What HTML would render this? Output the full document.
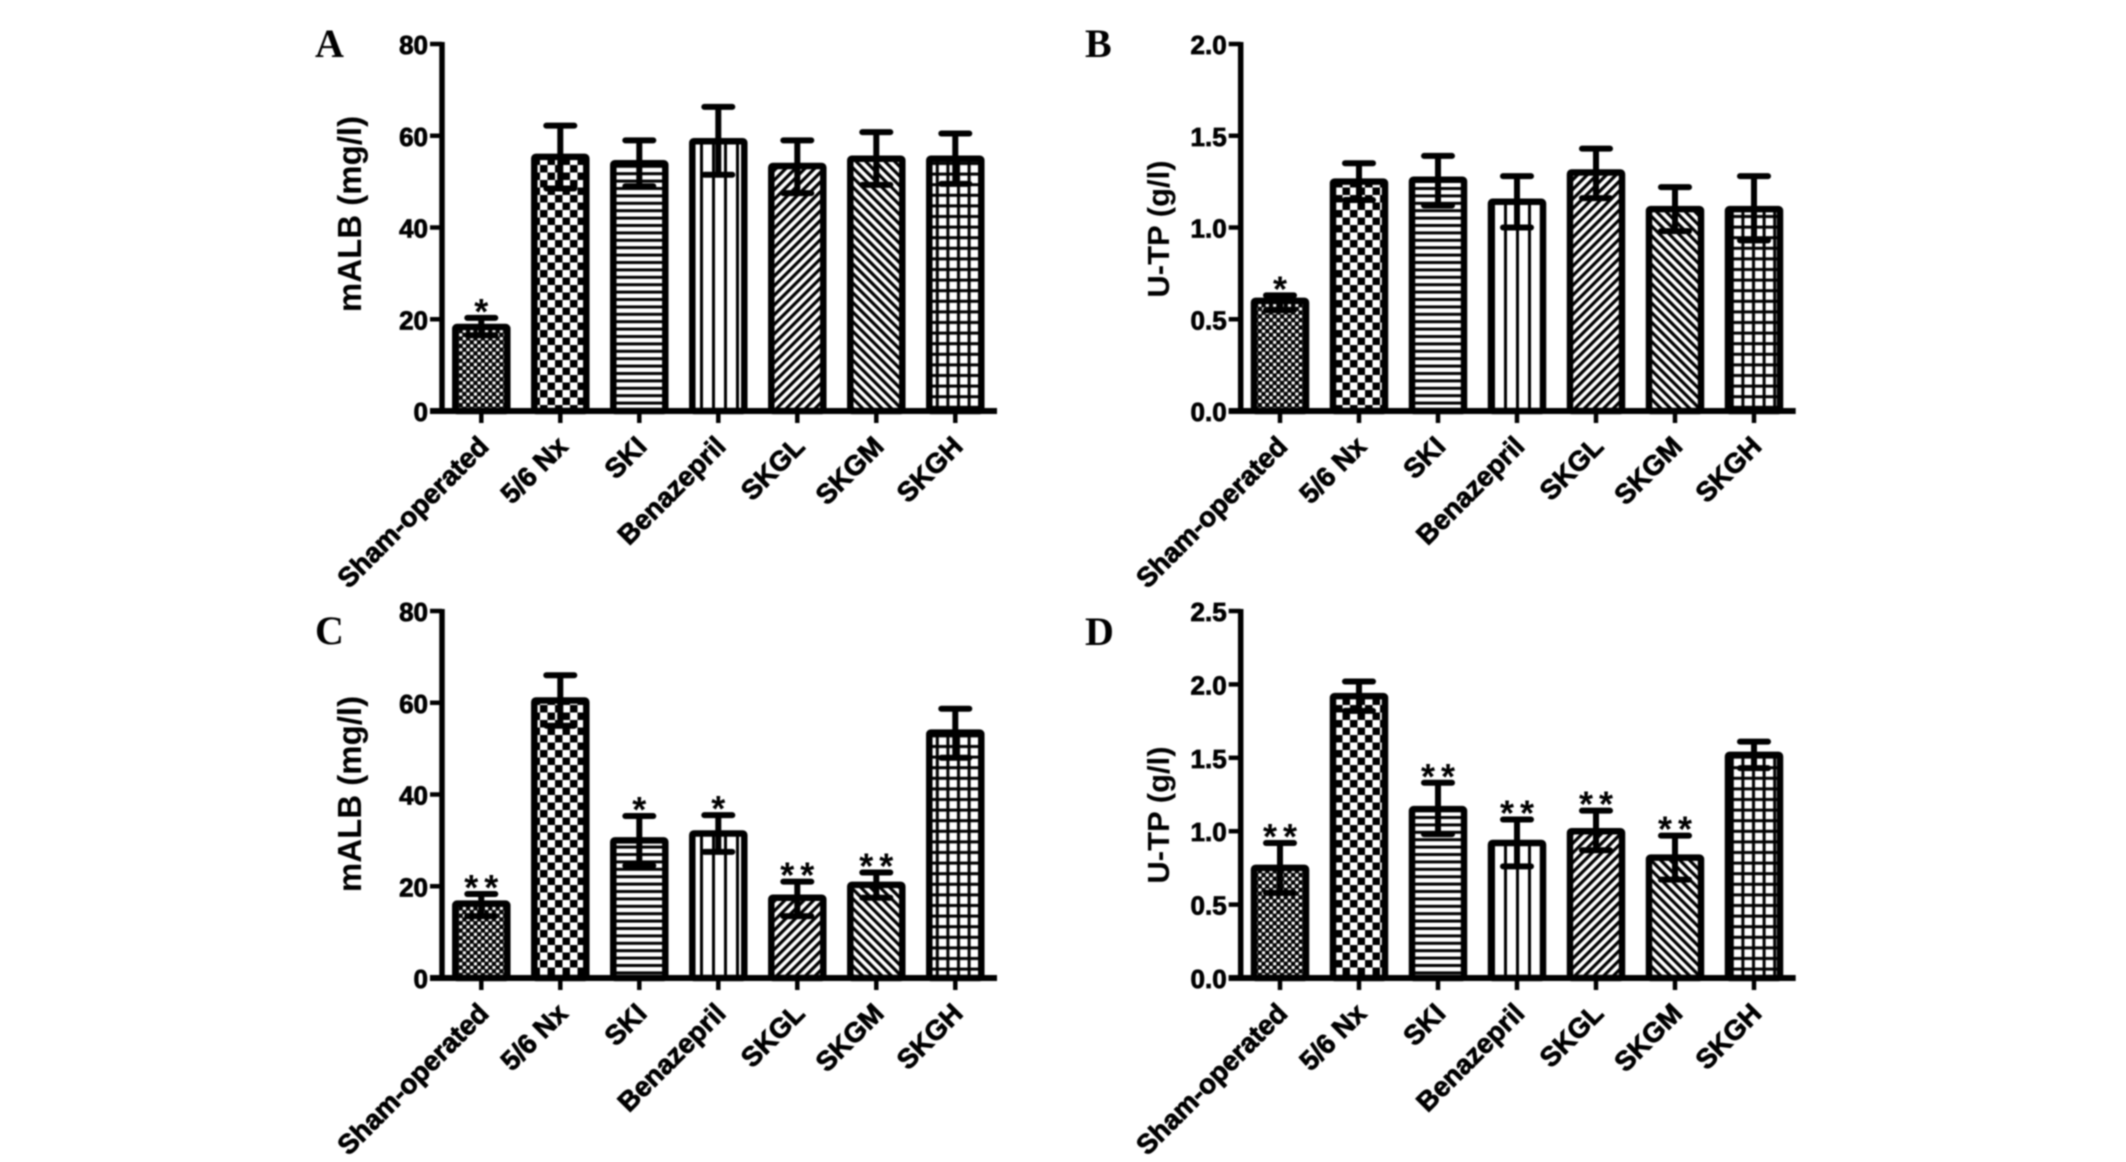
<!DOCTYPE html>
<html lang="en">
<head>
<meta charset="utf-8">
<title>mALB and U-TP bar charts</title>
<style>
html,body{margin:0;padding:0;background:#fff;}
body{width:2126px;height:1162px;overflow:hidden;}
svg{display:block;filter:blur(0.7px);}
text{font-family:"Liberation Sans",sans-serif;font-weight:bold;fill:#000;}
.tick{stroke:#000;stroke-width:.8px;}
.letter{font-family:"Liberation Serif",serif;font-size:40px;}
</style>
</head>
<body>
<svg id="figure" xmlns="http://www.w3.org/2000/svg" width="2126" height="1162" viewBox="0 0 2126 1162">
<rect width="2126" height="1162" fill="#fff"/>
<defs>
<pattern id="p0" patternUnits="userSpaceOnUse" width="7.4" height="7.4"><rect width="7.4" height="7.4" fill="#000"/><rect x="0.3" y="0.3" width="3.1" height="3.1" fill="#fff"/><rect x="4" y="4" width="3.1" height="3.1" fill="#fff"/></pattern>
<pattern id="p1" patternUnits="userSpaceOnUse" width="15" height="15"><rect width="15" height="15" fill="#fff"/><rect width="7.5" height="7.5" fill="#000"/><rect x="7.5" y="7.5" width="7.5" height="7.5" fill="#000"/></pattern>
<pattern id="p2" patternUnits="userSpaceOnUse" width="7.4" height="7.4"><rect width="7.4" height="7.4" fill="#fff"/><rect y="2" width="7.4" height="3" fill="#000"/></pattern>
<pattern id="p3" patternUnits="userSpaceOnUse" width="12" height="12"><rect width="12" height="12" fill="#fff"/><rect x="4" width="3" height="12" fill="#000"/></pattern>
<pattern id="p4" patternUnits="userSpaceOnUse" width="6.8" height="6.8" patternTransform="rotate(45)"><rect width="6.8" height="6.8" fill="#fff"/><rect width="3.2" height="6.8" fill="#000"/></pattern>
<pattern id="p5" patternUnits="userSpaceOnUse" width="6.8" height="6.8" patternTransform="rotate(-45)"><rect width="6.8" height="6.8" fill="#fff"/><rect width="3.2" height="6.8" fill="#000"/></pattern>
<pattern id="p6" patternUnits="userSpaceOnUse" width="10.6" height="10.6"><rect width="10.6" height="10.6" fill="#fff"/><rect x="3" width="3" height="10.6" fill="#000"/><rect y="3" width="10.6" height="3" fill="#000"/></pattern>
</defs>
</svg>
<script>
const categories = ['Sham-operated', '5/6 Nx', 'SKI', 'Benazepril', 'SKGL', 'SKGM', 'SKGH'];

const ticksAlb = [0, 20, 40, 60, 80];
const tickLabelsAlb = ['0', '20', '40', '60', '80'];
const ticksTpB = [0, 0.5, 1, 1.5, 2];
const tickLabelsTpB = ['0.0', '0.5', '1.0', '1.5', '2.0'];
const ticksTpD = [0, 0.5, 1, 1.5, 2, 2.5];
const tickLabelsTpD = ['0.0', '0.5', '1.0', '1.5', '2.0', '2.5'];

const valuesA = [18.3, 55.4, 54, 58.8, 53.4, 55, 55];
const errHighA = [20.3, 62.2, 59, 66.3, 59, 60.8, 60.5];
const errLowA = [16.5, 48.5, 49, 51.5, 47.5, 49.3, 49.5];
const starsA = [1, 0, 0, 0, 0, 0, 0];

const valuesB = [0.6, 1.25, 1.26, 1.14, 1.3, 1.1, 1.1];
const errHighB = [0.63, 1.35, 1.39, 1.28, 1.43, 1.22, 1.28];
const errLowB = [0.55, 1.15, 1.12, 1.0, 1.16, 0.98, 0.93];
const starsB = [1, 0, 0, 0, 0, 0, 0];

const valuesC = [16.2, 60.5, 30, 31.5, 17.5, 20.3, 53.5];
const errHighC = [18.3, 66, 35.3, 35.5, 21, 23, 58.7];
const errLowC = [13.5, 55, 24.5, 27.5, 13.5, 17.5, 48];
const starsC = [2, 0, 1, 1, 2, 2, 0];

const valuesD = [0.75, 1.92, 1.15, 0.92, 1.0, 0.82, 1.52];
const errHighD = [0.92, 2.02, 1.33, 1.08, 1.14, 0.97, 1.61];
const errLowD = [0.58, 1.82, 0.98, 0.76, 0.87, 0.67, 1.43];
const starsD = [2, 0, 2, 2, 2, 2, 0];

const svg = document.getElementById('figure');
const NS = 'http://www.w3.org/2000/svg';

function make(tag, attrs, parent, content) {
  const el = document.createElementNS(NS, tag);
  for (const k in attrs) el.setAttribute(k, attrs[k]);
  if (content !== undefined) el.textContent = content;
  parent.appendChild(el);
  return el;
}

function slug(s) {
  return s.toLowerCase().replace(/[^a-z0-9]+/g, '-');
}

function drawPanel(id, letter, letterX, letterY, title, titleSize, titleX, titleY, axisX, topY, baseY, ticks, tickLabels, yMax, values, errHigh, errLow, stars) {
  const yScale = v => baseY - (v / yMax) * (baseY - topY);
  const xScale = i => axisX + 39.3 + i * 79;
  const rightX = axisX + 555;

  const g = make('g', {}, svg);
  
  

  const letterEl = make('text', {x: letterX, y: letterY, class: 'letter'}, g, letter);
  
  

  const titleEl = make('text', {x: titleX, y: titleY, 'font-size': titleSize, 'text-anchor': 'middle', transform: 'rotate(-90 ' + titleX + ' ' + titleY + ')'}, g, title);
  
  

  values.forEach((v, i) => {
    const cx = xScale(i);
    const top = yScale(v);
    const bar = make('rect', {x: cx - 26, y: top, width: 52, height: baseY - top, fill: 'url(#p' + i + ')', stroke: '#000', 'stroke-width': 6.5, rx: 1.5}, g);
    
    

    const hi = yScale(errHigh[i]);
    const lo = yScale(errLow[i]);
    const err = make('path', {d: 'M' + cx + ' ' + hi + 'V' + lo, stroke: '#000', 'stroke-width': 6, fill: 'none'}, g);
    
    

    const capTop = make('path', {d: 'M' + (cx - 14) + ' ' + hi + 'H' + (cx + 14), stroke: '#000', 'stroke-width': 6, 'stroke-linecap': 'round', fill: 'none'}, g);
    
    

    const capLow = make('path', {d: 'M' + (cx - 14) + ' ' + lo + 'H' + (cx + 14), stroke: '#000', 'stroke-width': 6, 'stroke-linecap': 'round', fill: 'none'}, g);
    
    

    if (stars[i] > 0) {
      const label = stars[i] === 2 ? '**' : '*';
      const star = make('text', {x: stars[i] === 2 ? cx + 3 : cx, y: hi + 6, 'font-size': 36, 'text-anchor': 'middle', 'letter-spacing': stars[i] === 2 ? 6 : 0}, g, label);
      
      
    }

    const xt = make('line', {x1: cx, x2: cx, y1: baseY, y2: baseY + 12, stroke: '#000', 'stroke-width': 4.5}, g);
    
    

    const lx = cx + 9;
    const ly = baseY + 37;
    const xl = make('text', {x: lx, y: ly, 'font-size': 27.5, 'text-anchor': 'end', class: 'tick', transform: 'rotate(-45 ' + lx + ' ' + ly + ')'}, g, categories[i]);
    
    
  });

  const yAxis = make('line', {x1: axisX, x2: axisX, y1: topY - 2, y2: baseY, stroke: '#000', 'stroke-width': 5.5}, g);
  
  

  const xAxis = make('line', {x1: axisX - 12, x2: rightX, y1: baseY, y2: baseY, stroke: '#000', 'stroke-width': 6}, g);
  
  

  ticks.forEach((t, i) => {
    const y = yScale(t);
    const tk = make('line', {x1: axisX - 12, x2: axisX, y1: y, y2: y, stroke: '#000', 'stroke-width': 4.5}, g);
    
    

    const tl = make('text', {x: axisX - 14, y: y + 10, 'font-size': 26, 'text-anchor': 'end', class: 'tick'}, g, tickLabels[i]);
    
    
  });
}

drawPanel('a', 'A', 315, 57, 'mALB (mg/l)', 33, 361, 214, 442, 44, 411, ticksAlb, tickLabelsAlb, 80, valuesA, errHighA, errLowA, starsA);
drawPanel('b', 'B', 1085, 57, 'U-TP (g/l)', 31, 1169, 229, 1240.7, 44, 411, ticksTpB, tickLabelsTpB, 2, valuesB, errHighB, errLowB, starsB);
drawPanel('c', 'C', 315, 644, 'mALB (mg/l)', 33, 361, 794, 442, 611, 978, ticksAlb, tickLabelsAlb, 80, valuesC, errHighC, errLowC, starsC);
drawPanel('d', 'D', 1085, 645, 'U-TP (g/l)', 31, 1169, 815, 1240.7, 611, 978, ticksTpD, tickLabelsTpD, 2.5, valuesD, errHighD, errLowD, starsD);
</script>
</body>
</html>
